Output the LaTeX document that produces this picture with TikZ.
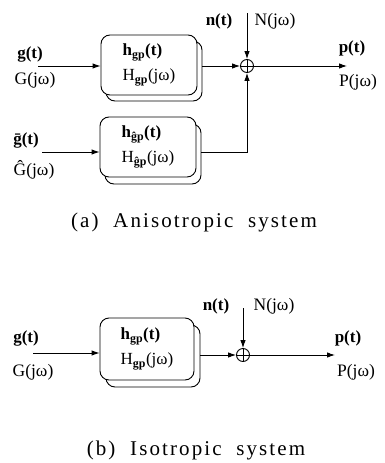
\documentclass[tikz,border=0pt]{standalone}
\usepackage{fontspec}
\setmainfont{Liberation Serif}
\newfontfamily\capfont[LetterSpace=10]{Liberation Serif}
\usetikzlibrary{arrows.meta}
\newcommand{\sgp}{\textsubscript{\textbf{gp}}}
\newcommand{\shgp}{\textsubscript{\textbf{\^{g}p}}}
\begin{document}
\begin{tikzpicture}[x=1pt,y=-1pt,
  blk/.style={draw, rounded corners=9pt, line width=0.9pt, fill=white, inner sep=0pt,
    minimum width=96pt, minimum height=60pt, align=left,
    font=\fontsize{17}{19}\selectfont},
  sumnode/.style={draw, circle, minimum size=13pt, inner sep=0pt, line width=0.9pt,
    path picture={\draw[line width=0.8pt]
      (path picture bounding box.north) -- (path picture bounding box.south)
      (path picture bounding box.west) -- (path picture bounding box.east);}},
  arr/.style={line width=0.9pt, -{Latex[length=8pt,width=5.5pt]}},
  tl/.style={font=\fontsize{17}{19}\selectfont\bfseries, inner sep=0pt},
  fl/.style={font=\fontsize{17.5}{19}\selectfont, inner sep=0pt},
  captxt/.style={font=\fontsize{21}{24}\selectfont\capfont, inner sep=0pt}
]
\useasboundingbox (0,0) rectangle (384,463);

% ---------- (a) anisotropic ----------
\node[blk] (b1s) at (154,71) {};
\node[blk] (b1) at (149,65) {\textbf{h}\sgp\textbf{(t)}\\[6pt]H\sgp(jω)};
\node[blk] (b2s) at (153,154) {};
\node[blk] (b2) at (148,147) {\textbf{h}\shgp\textbf{(t)}\\[6pt]H\shgp(jω)};
\node[sumnode] (s1) at (247,66) {};

\coordinate (in1) at (38,66);
\coordinate (in2) at (42,152);
\coordinate (n1) at (247,13);
\coordinate (out1) at (347,66);

\draw[arr] (in1) -- (in1 -| b1.west);
\draw[arr] (b1s.east |- s1) -- (s1.west);
\draw[arr] (n1) -- (s1.north);
\draw[arr] (s1.east) -- (out1);
\draw[arr] (in2) -- (in2 -| b2.west);
\draw[arr] (in2 -| b2s.east) -| (s1.south);

\node[tl] (lg1) at (30,54) {g(t)};
\node[fl] (lG1) at (35,80) {G(jω)};
\node[tl] (ln1) at (219,21) {n(t)};
\node[fl] (lN1) at (275,21) {N(jω)};
\node[tl] (lp1) at (352,48) {p(t)};
\node[fl] (lP1) at (358,82) {P(jω)};
\node[tl] (lg2) at (26,140) {\={g}(t)};
\node[fl] (lG2) at (34,170) {\^{G}(jω)};

\node[captxt] (capa) at (194,222) {(a)\ \ Anisotropic\ \ system};

% ---------- (b) isotropic ----------
\node[blk, minimum width=94pt, minimum height=62pt] (b3s) at (153,356) {};
\node[blk, minimum width=94pt, minimum height=62pt] (b3) at (147,349) {\textbf{h}\sgp\textbf{(t)}\\[6pt]H\sgp(jω)};
\node[sumnode] (s3) at (243,355) {};

\coordinate (in3) at (33,353);
\coordinate (n3) at (243,308);
\coordinate (out3) at (335,355);

\draw[arr] (in3) -- (in3 -| b3.west);
\draw[arr] (b3s.east |- s3) -- (s3.west);
\draw[arr] (n3) -- (s3.north);
\draw[arr] (s3.east) -- (out3);

\node[tl] (lg3) at (26,338) {g(t)};
\node[fl] (lG3) at (33,372) {G(jω)};
\node[tl] (ln3) at (216,306) {n(t)};
\node[fl] (lN3) at (274,306) {N(jω)};
\node[tl] (lp3) at (348,338) {p(t)};
\node[fl] (lP3) at (356,372) {P(jω)};

\node[captxt] (capb) at (196,450) {(b)\ \ Isotropic\ \ system};
\end{tikzpicture}
\end{document}
